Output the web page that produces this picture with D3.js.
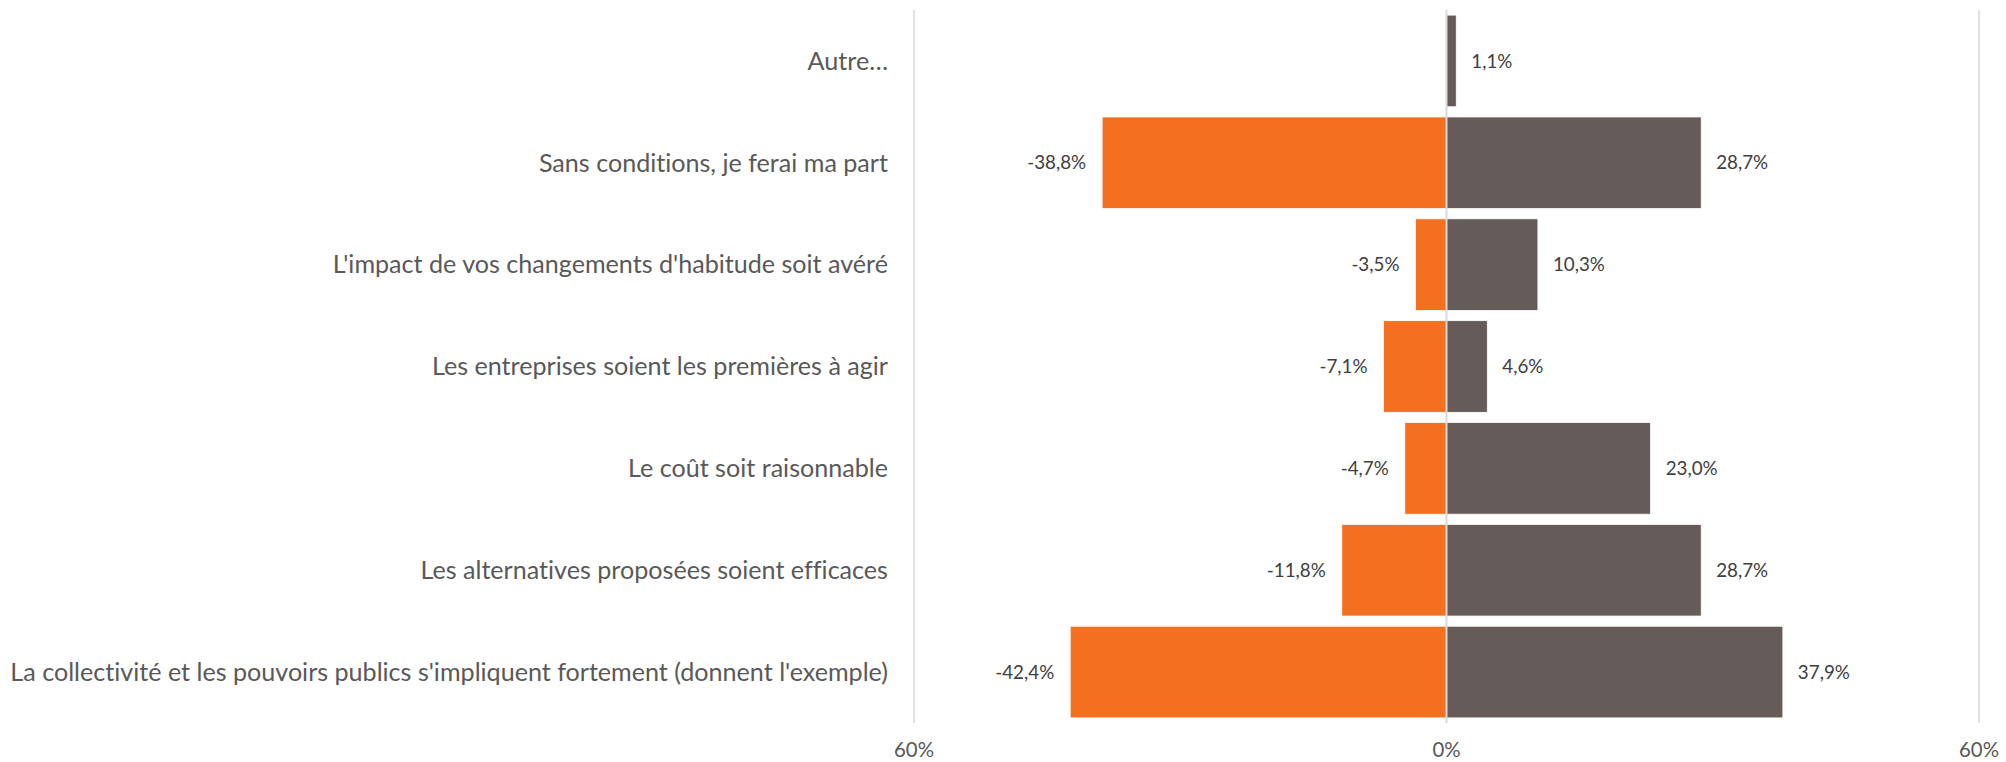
<!DOCTYPE html>
<html>
<head>
<meta charset="utf-8">
<script src="https://cdnjs.cloudflare.com/ajax/libs/d3/7.8.5/d3.min.js"></script>
<style>
	body { margin: 0; background: #fff; }
	svg text { font-family: Lato, "Open Sans", sans-serif; font-variant-ligatures: none; }
</style>
</head>
<body>
<svg id="chart" width="2006" height="762"></svg>
<script>
// categories, top to bottom
var categories = [
	"Autre…",
	"Sans conditions, je ferai ma part",
	"L'impact de vos changements d'habitude soit avéré",
	"Les entreprises soient les premières à agir",
	"Le coût soit raisonnable",
	"Les alternatives proposées soient efficaces",
	"La collectivité et les pouvoirs publics s'impliquent fortement (donnent l'exemple)"
];
// left side (orange), in %
var negValues = [null, -38.8, -3.5, -7.1, -4.7, -11.8, -42.4];
// right side (grey), in %
var posValues = [1.1, 28.7, 10.3, 4.6, 23.0, 28.7, 37.9];
var tickValues = [-60, 0, 60];

var svg = d3.select("#chart");
var orange = "#F37021", grey = "#655C5A";

var x = d3.scaleLinear().domain([-60, 60]).range([914, 1979]);
var y = d3.scaleBand().domain(categories).range([10, 723]).paddingInner(0.1).paddingOuter(0.05);

var fmt = v => d3.format(".1f")(v).replace(".", ",").replace("\u2212", "-") + "%";

// fit a text's font size so that it spans the wanted width
function fitText(sel, width) {
	let w = sel.node().getComputedTextLength();
	let size = parseFloat(sel.attr("font-size"));
	sel.attr("font-size", size * width / w);
	return size * width / w;
}

// grid lines
svg.append("g").selectAll("line")
	.data(tickValues.filter(d => d != 0))
	.join("line")
	.attr("x1", d => x(d)).attr("x2", d => x(d))
	.attr("y1", 10).attr("y2", 723)
	.attr("stroke", "#D9D9D9").attr("stroke-width", 1.5);

let negData = categories.map((c, i) => ({cat: c, v: negValues[i]})).filter(d => d.v != null);
let posData = categories.map((c, i) => ({cat: c, v: posValues[i]}));

svg.append("g").selectAll("rect")
	.data(negData)
	.join("rect")
	.attr("x", d => x(d.v))
	.attr("width", d => x(0) - x(d.v))
	.attr("y", d => y(d.cat))
	.attr("height", y.bandwidth())
	.attr("fill", orange)
	.attr("stroke", "#fff").attr("stroke-width", 0.8);

svg.append("g").selectAll("rect")
	.data(posData)
	.join("rect")
	.attr("x", x(0))
	.attr("width", d => x(d.v) - x(0))
	.attr("y", d => y(d.cat))
	.attr("height", y.bandwidth())
	.attr("fill", grey)
	.attr("stroke", "#fff").attr("stroke-width", 0.8);

// zero line on top
svg.append("line")
	.attr("x1", x(0)).attr("x2", x(0))
	.attr("y1", 10).attr("y2", 723)
	.attr("stroke", "#D9D9D9").attr("stroke-width", 2);

// value labels
let probe = svg.append("text").attr("font-size", 20).text("-38,8%");
let valSize = fitText(probe, 59);
probe.remove();

svg.append("g").selectAll("text")
	.data(negData)
	.join("text")
	.attr("x", d => x(d.v) - 16)
	.attr("y", d => y(d.cat) + y.bandwidth() / 2)
	.attr("dy", "0.35em")
	.attr("text-anchor", "end")
	.attr("font-size", valSize)
	.attr("fill", "#404040")
	.text(d => fmt(d.v));

svg.append("g").selectAll("text")
	.data(posData)
	.join("text")
	.attr("x", d => x(d.v) + 15)
	.attr("y", d => y(d.cat) + y.bandwidth() / 2)
	.attr("dy", "0.35em")
	.attr("font-size", valSize)
	.attr("fill", "#404040")
	.text(d => fmt(d.v));

// category labels
probe = svg.append("text").attr("font-size", 24).text(categories[6]);
let catSize = fitText(probe, 878);
probe.remove();

svg.append("g").selectAll("text")
	.data(categories)
	.join("text")
	.attr("x", 888)
	.attr("y", d => y(d) + y.bandwidth() / 2)
	.attr("dy", "0.35em")
	.attr("text-anchor", "end")
	.attr("font-size", catSize)
	.attr("fill", "#595959")
	.text(d => d);

// x axis tick labels
probe = svg.append("text").attr("font-size", 22).text("60%");
let tickSize = fitText(probe, 40);
probe.remove();

svg.append("g").selectAll("text")
	.data(tickValues)
	.join("text")
	.attr("x", d => x(d))
	.attr("y", 750)
	.attr("dy", "0.35em")
	.attr("text-anchor", "middle")
	.attr("font-size", tickSize)
	.attr("fill", "#595959")
	.text(d => Math.abs(d) + "%");
</script>
</body>
</html>
